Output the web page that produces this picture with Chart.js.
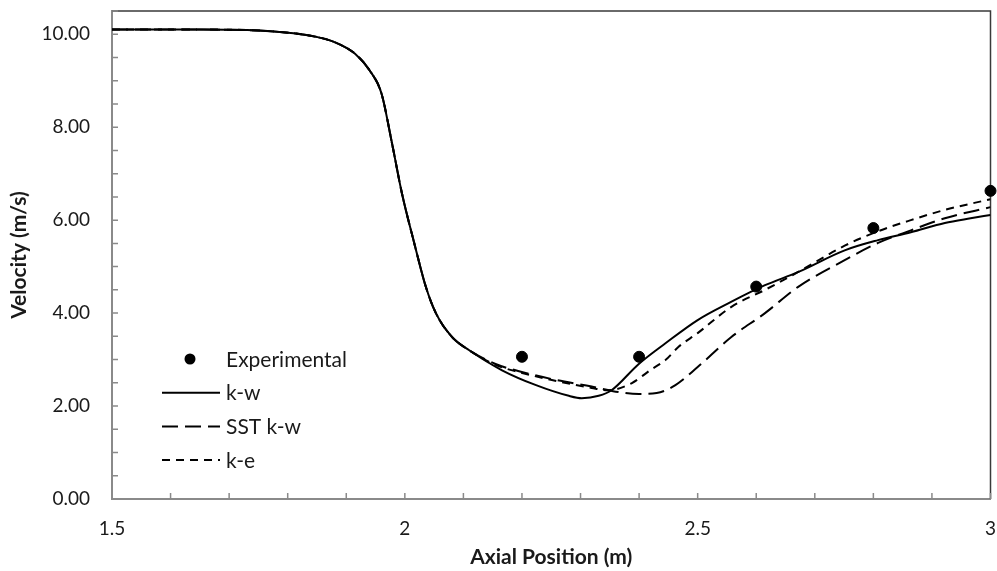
<!DOCTYPE html>
<html>
<head>
<meta charset="utf-8">
<script src="https://cdn.jsdelivr.net/npm/chart.js@4.4.0/dist/chart.umd.min.js"></script>
<style>
  html, body { margin: 0; padding: 0; background: #fff; }
  canvas { display: block; }
</style>
</head>
<body>
<canvas id="chart" width="997" height="571"></canvas>
<script>
// upstream part of the profile, identical for the three turbulence models
const sharedX = [1.50, 1.65, 1.75, 1.81, 1.85, 1.88, 1.915, 1.94, 1.96, 1.978, 1.995, 2.016, 2.036, 2.053, 2.081, 2.11];
const sharedY = [10.10, 10.10, 10.08, 10.02, 9.94, 9.83, 9.58, 9.22, 8.73, 7.66, 6.58, 5.51, 4.56, 4.00, 3.48, 3.20];

// k-w downstream of the split
const kwX = [2.166, 2.224, 2.28, 2.302, 2.331, 2.353, 2.399, 2.445, 2.50, 2.557, 2.615, 2.671, 2.751, 2.808, 2.864, 2.922, 2.966, 3.00];
const kwY = [2.77, 2.45, 2.22, 2.17, 2.22, 2.34, 2.90, 3.35, 3.85, 4.24, 4.60, 4.88, 5.35, 5.57, 5.74, 5.94, 6.04, 6.11];

// SST k-w
const sstX = [2.156, 2.195, 2.251, 2.319, 2.36, 2.40, 2.43, 2.462, 2.50, 2.557, 2.615, 2.671, 2.751, 2.808, 2.864, 2.922, 3.00];
const sstY = [2.90, 2.75, 2.58, 2.42, 2.31, 2.26, 2.28, 2.45, 2.84, 3.48, 4.00, 4.56, 5.14, 5.51, 5.78, 6.04, 6.28];

// k-e
const keX = [2.156, 2.195, 2.251, 2.319, 2.348, 2.387, 2.42, 2.445, 2.467, 2.50, 2.557, 2.615, 2.671, 2.751, 2.808, 2.864, 2.922, 3.00];
const keY = [2.88, 2.73, 2.56, 2.39, 2.34, 2.49, 2.78, 2.99, 3.27, 3.57, 4.13, 4.50, 4.88, 5.45, 5.76, 6.00, 6.22, 6.45];

// measurements
const expX = [2.2, 2.4, 2.6, 2.8, 3.0];
const expY = [3.06, 3.06, 4.57, 5.83, 6.63];

const FONT = 'Lato, "DejaVu Sans", sans-serif';

function pts(xs, ys) {
  return xs.map((x, i) => ({ x, y: ys[i] }));
}
function withShared(xs, ys) {
  return pts(sharedX.concat(xs), sharedY.concat(ys));
}

// legend entries, drawn inside the plot area like the Excel original
const legendItems = [
  { text: 'Experimental', kind: 'dot' },
  { text: 'k-w', dash: [] },
  { text: 'SST k-w', dash: [16, 7] },
  { text: 'k-e', dash: [8, 6] }
];

const decorPlugin = {
  id: 'decor',
  beforeDatasetsDraw(chart) {
    const { ctx, chartArea: a, scales } = chart;
    ctx.save();
    // top/right frame of the plot area
    ctx.strokeStyle = '#3a3a3a';
    ctx.lineWidth = 1.5;
    ctx.beginPath();
    ctx.moveTo(a.left, a.top);
    ctx.lineTo(a.right, a.top);
    ctx.lineTo(a.right, a.bottom);
    ctx.stroke();
    // small tick marks pointing into the plot
    ctx.strokeStyle = '#8a8a8a';
    ctx.lineWidth = 1.5;
    ctx.beginPath();
    for (const t of scales.x.ticks) {
      const px = scales.x.getPixelForValue(t.value);
      ctx.moveTo(px, a.bottom);
      ctx.lineTo(px, a.bottom - 6);
    }
    for (const t of scales.y.ticks) {
      const py = scales.y.getPixelForValue(t.value);
      ctx.moveTo(a.left, py);
      ctx.lineTo(a.left + 6, py);
    }
    ctx.stroke();
    ctx.restore();
  },
  afterDraw(chart) {
    const { ctx, chartArea: a } = chart;
    ctx.save();
    ctx.font = '21px ' + FONT;
    ctx.textBaseline = 'middle';
    ctx.strokeStyle = '#000';
    ctx.lineWidth = 2;
    const x0 = a.left + 50, x1 = a.left + 108, tx = a.left + 114;
    legendItems.forEach((it, i) => {
      const y = a.top + 348 + i * 33.7;
      if (it.kind === 'dot') {
        ctx.fillStyle = '#000';
        ctx.beginPath();
        ctx.arc((x0 + x1) / 2 - 1, y, 5.5, 0, Math.PI * 2);
        ctx.fill();
      } else {
        ctx.setLineDash(it.dash);
        ctx.beginPath();
        ctx.moveTo(x0, y);
        ctx.lineTo(x1, y);
        ctx.stroke();
        ctx.setLineDash([]);
      }
      ctx.fillStyle = '#1a1a1a';
      ctx.fillText(it.text, tx, y + 1);
    });
    ctx.restore();
  }
};

const lineStyle = {
  showLine: true,
  pointRadius: 0,
  borderColor: '#000',
  borderWidth: 2,
  cubicInterpolationMode: 'monotone',
  fill: false
};

new Chart(document.getElementById('chart'), {
  type: 'line',
  data: {
    datasets: [
      {
        label: 'Experimental',
        data: pts(expX, expY),
        showLine: false,
        pointRadius: 5.5,
        pointBackgroundColor: '#000',
        pointBorderColor: '#000',
        clip: false
      },
      Object.assign({ label: 'k-w', data: withShared(kwX, kwY) }, lineStyle),
      Object.assign({ label: 'SST k-w', data: withShared(sstX, sstY), borderDash: [16, 7] }, lineStyle),
      Object.assign({ label: 'k-e', data: withShared(keX, keY), borderDash: [8, 6] }, lineStyle)
    ]
  },
  options: {
    responsive: false,
    animation: false,
    layout: { padding: { top: 11, right: 4, left: 0, bottom: 0 } },
    plugins: {
      legend: { display: false },
      tooltip: { enabled: false }
    },
    scales: {
      x: {
        type: 'linear',
        min: 1.5,
        max: 3,
        grid: { display: false, drawTicks: false },
        border: { display: true, color: '#8a8a8a', width: 2 },
        ticks: {
          stepSize: 0.1,
          autoSkip: false,
          maxRotation: 0,
          padding: 18,
          color: '#1a1a1a',
          font: { family: FONT, size: 19 },
          callback: v => {
            const h = v * 2;
            return Math.abs(h - Math.round(h)) < 1e-6 ? String(Math.round(h) / 2) : '';
          }
        },
        title: {
          display: true,
          text: 'Axial Position (m)',
          color: '#1a1a1a',
          font: { family: FONT, size: 21, weight: 'bold' },
          padding: { top: 0, bottom: 1 }
        },
        afterFit: s => { s.height = 72; s.paddingLeft = 0; s.paddingRight = 0; }
      },
      y: {
        min: 0,
        max: 10.5,
        grid: { display: false, drawTicks: false },
        border: { display: true, color: '#8a8a8a', width: 2 },
        ticks: {
          stepSize: 0.5,
          autoSkip: false,
          padding: 22,
          color: '#1a1a1a',
          font: { family: FONT, size: 19 },
          callback: v => {
            const h = v / 2;
            return Math.abs(h - Math.round(h)) < 1e-6 ? v.toFixed(2) : '';
          }
        },
        title: {
          display: true,
          text: 'Velocity (m/s)',
          color: '#1a1a1a',
          font: { family: FONT, size: 21, weight: 'bold' },
          padding: { top: 7, bottom: 0 }
        },
        afterFit: s => { s.width = 112; s.paddingTop = 0; s.paddingBottom = 0; }
      }
    }
  },
  plugins: [decorPlugin]
});
</script>
</body>
</html>
